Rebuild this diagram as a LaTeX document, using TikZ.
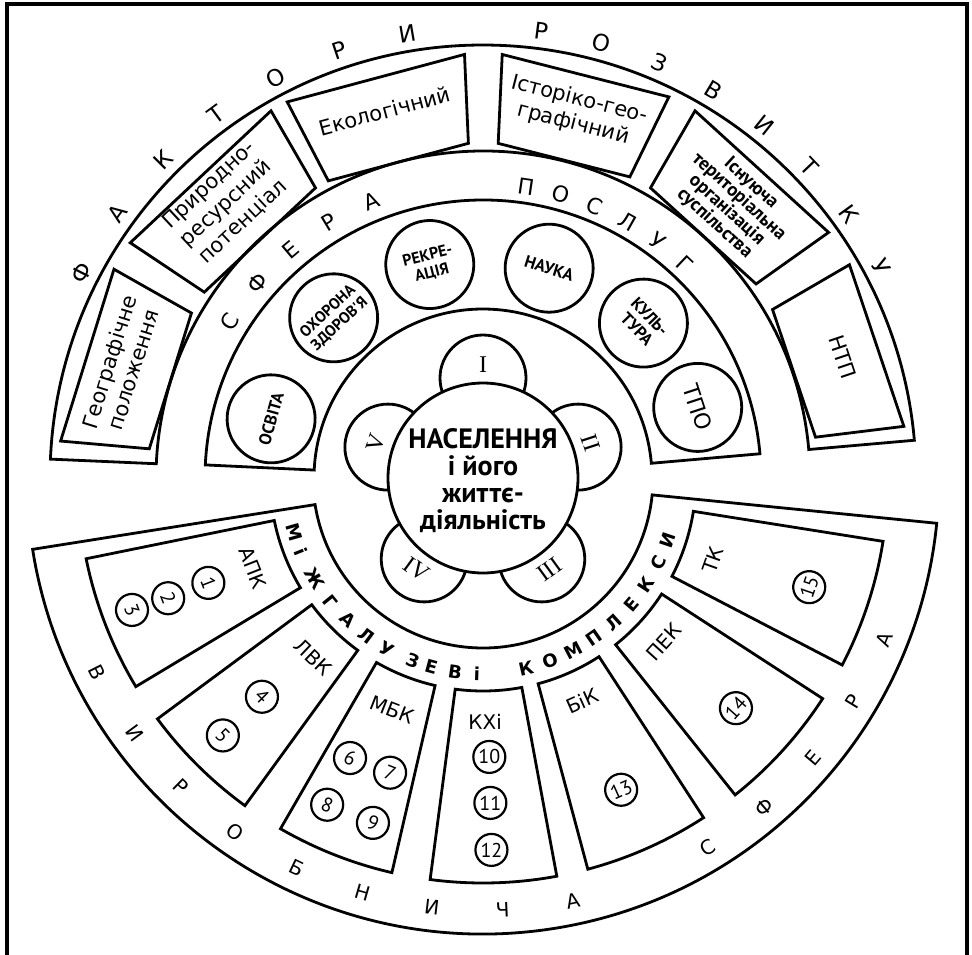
\documentclass[tikz,border=0pt]{standalone}
\usepackage{fontspec}
\setmainfont{DejaVu Sans}
\newfontfamily\narrowfont{PT Sans}
\newfontfamily\romanfont{Liberation Serif}
\usetikzlibrary{positioning}
\tikzset{
  framerule/.style={line width=2pt, line cap=rect},
  bandline/.style={draw, line width=1.4pt, fill=white, line join=miter},
  boxline/.style={draw, line width=1.4pt, line join=miter},
  factortext/.style={align=center, inner sep=0pt, font=\fontsize{10.5}{12.5}\selectfont},
  servcirc/.style={circle, draw, line width=1.4pt, minimum size=44pt, inner sep=0pt, align=center, font=\narrowfont\bfseries\fontsize{8.5}{9}\selectfont},
  petalline/.style={draw, line width=1.4pt, fill=white},
  petaltext/.style={inner sep=0pt, font=\romanfont\fontsize{12}{12}\selectfont},
  coretext/.style={align=center, inner sep=0pt, font=\narrowfont\bfseries\fontsize{14}{13.5}\selectfont},
  bigletter/.style={inner sep=0pt, font=\fontsize{11.5}{11.5}\selectfont},
  midletter/.style={inner sep=0pt, font=\fontsize{11}{11}\selectfont},
  ringletter/.style={inner sep=0pt, font=\bfseries\fontsize{9}{9}\selectfont},
  outletter/.style={inner sep=0pt, font=\fontsize{10}{10}\selectfont},
  complabel/.style={inner sep=0pt, font=\fontsize{10}{10}\selectfont},
  numcirc/.style={circle, draw, line width=1.1pt, minimum size=16pt, inner sep=0pt, font=\narrowfont\fontsize{10}{10}\selectfont}
}

\begin{document}
\begin{tikzpicture}[x=0.5pt, y=0.5pt]
\useasboundingbox (-483,-476) rectangle (489,478);

% frame
\draw[framerule] (-476,-476) -- (-476,474) -- (484,474) -- (484,-476);

% factors band
\draw[bandline] (5:327) arc[start angle=5, end angle=177.5, radius=327]
  -- (177.5:433) arc[start angle=177.5, end angle=5, radius=433] -- cycle;
\foreach \a/\b in {150.5/175, 120/146.3, 92.5/117.5, 64/87.4, 35.4/60, 7/30.2}
  \draw[boxline] (\a:335) -- (\a:424) -- (\b:424) -- (\b:335) -- cycle;

\node[factortext, rotate=72.75] (geopos) at (162.75:379) {Географічне\\положення};
\node[factortext, rotate=43.1] (prirod) at (133.1:376) {Природно-\\ресурсний\\потенціал};
\node[factortext, rotate=15] (ekolog) at (105:380) {Екологічний};
\node[factortext, rotate=-14.3] (istor) at (75.7:378) {Історіко-гео-\\графічний};
\node[factortext, rotate=-42.3, font=\narrowfont\bfseries\fontsize{9.5}{9}\selectfont] (tero) at (47.7:371) {Існуюча\\територіальна\\організація\\суспільства};
\node[factortext, rotate=-71.4] (ntp) at (18.6:380) {НТП};

\foreach \ch [count=\i from 0] in {Ф,А,К,Т,О,Р,И}
  \node[bigletter, rotate=63-8.9*\i] (fa\i) at ({153-8.9*\i}:451) {\ch};
\foreach \ch [count=\i from 0] in {Р,О,З,В,И,Т,К,У}
  \node[bigletter, rotate=-7.4-7.8*\i] (ro\i) at ({82.6-7.8*\i}:451) {\ch};

% service band
\draw[bandline] (5:169) -- (5:278) arc[start angle=5, end angle=177.3, radius=278]
  -- (177.3:169) arc[start angle=177.3, end angle=5, radius=169] -- cycle;
\foreach \ch [count=\i from 0] in {С,Ф,Е,Р,А}
  \node[midletter, rotate=58.3-9.1*\i] (sf\i) at ({148.3-9.1*\i}:298) {\ch};
\foreach \ch [count=\i from 0] in {П,О,С,Л,У,Г}
  \node[midletter, rotate=-8.4-7*\i] (po\i) at ({81.6-7*\i}:294) {\ch};

\node[servcirc, rotate=74.4] (osvita) at (164.4:220) {ОСВІТА};
\node[servcirc, rotate=43, font=\narrowfont\bfseries\fontsize{7.8}{8.5}\selectfont] (ohorona) at (133:219) {ОХОРОНА\\ЗДОРОВ'Я};
\node[servcirc, rotate=14, font=\narrowfont\bfseries\fontsize{8}{9}\selectfont] (rekre) at (104:220) {РЕКРЕ-\\АЦІЯ};
\node[servcirc, rotate=-17.5] (nauka) at (72.5:220) {НАУКА};
\node[servcirc, rotate=-46] (kultura) at (44:223) {КУЛЬ-\\ТУРА};
\node[servcirc, rotate=-71.8, font=\fontsize{11}{11}\selectfont] (tpo) at (18.2:226) {ТПО};

% production band
\draw[bandline] (189:170) -- (189:456) arc[start angle=189, end angle=354.3, radius=456]
  -- (354.3:170) arc[start angle=354.3, end angle=189, radius=170] -- cycle;
\foreach \a/\b in {191.5/211, 216.5/234, 240/257, 262.5/280.5, 285/303, 308.5/327, 332.5/351}
  \draw[boxline] (\a:213) -- (\a:405) arc[start angle=\a, end angle=\b, radius=405]
    -- (\b:213) arc[start angle=\b, end angle=\a, radius=213] -- cycle;

\node[complabel, rotate=291.4] (apk) at (201.4:247) {АПК};
\node[complabel, rotate=316.5] (lvk) at (226.5:247) {ЛВК};
\node[complabel, rotate=338.6] (mbk) at (248.6:249) {МБК};
\node[complabel, rotate=0.5] (khi) at (270.5:244) {КХі};
\node[complabel, rotate=24] (bik) at (294:244) {БіК};
\node[complabel, rotate=47.8] (pek) at (317.8:244) {ПЕК};
\node[complabel, rotate=70.4] (tk) at (340.4:244) {ТК};

\foreach \n/\a/\r/\t in {1/200.9/294/291, 2/200.9/337/291, 3/200.6/375/291,
    4/224.7/311/315, 5/224.7/366/315,
    6/244.6/310/338.5, 7/252.5/309/338.5, 8/244.5/362/338.5, 9/252.3/362/338.5,
    10/271.3/279/0, 11/271.3/325/0, 12/271.3/372/0,
    13/293.9/341/24, 14/317.7/342/48, 15/341.5/344/71}
  \node[numcirc, rotate=\t] (n\n) at (\a:\r) {\n};

\foreach \ch/\a [count=\i] in {М/196, і/202, Ж/211, Г/219, А/226.4, Л/233.5, У/240.6, З/249, Е/254.7, В/261.8, і/268.2}
  \node[ringletter, rotate=\a+90] (mg\i) at (\a:196) {\ch};
\foreach \ch [count=\i from 0] in {К,О,М,П,Л,Е,К,С,И}
  \node[ringletter, rotate=12.8+7.33*\i] (ko\i) at ({282.8+7.33*\i}:195) {\ch};
\foreach \ch [count=\i from 0] in {В,И,Р,О,Б,Н,И,Ч,А}
  \node[outletter, rotate=-63.2+9.4*\i] (vy\i) at ({206.8+9.4*\i}:432) {\ch};
\foreach \ch [count=\i from 0] in {С,Ф,Е,Р,А}
  \node[outletter, rotate=31.3+9.2*\i] (sv\i) at ({301.3+9.2*\i}:433) {\ch};

% population core
\foreach \a in {90, 18, -54, -126, 162}
  \draw[petalline] (\a:100) circle[radius=43];
\foreach \n/\a/\t in {I/90/0, II/18/-72, III/-54/36, IV/-126/-36, V/162/72}
  \node[petaltext, rotate=\t] (num\n) at (\a:113) {\n};
\draw[petalline] (0,0) circle[radius=95];
\node[coretext] (core) at (0,-3) {НАСЕЛЕННЯ\\і його\\життє-\\діяльність};

\end{tikzpicture}
\end{document}
